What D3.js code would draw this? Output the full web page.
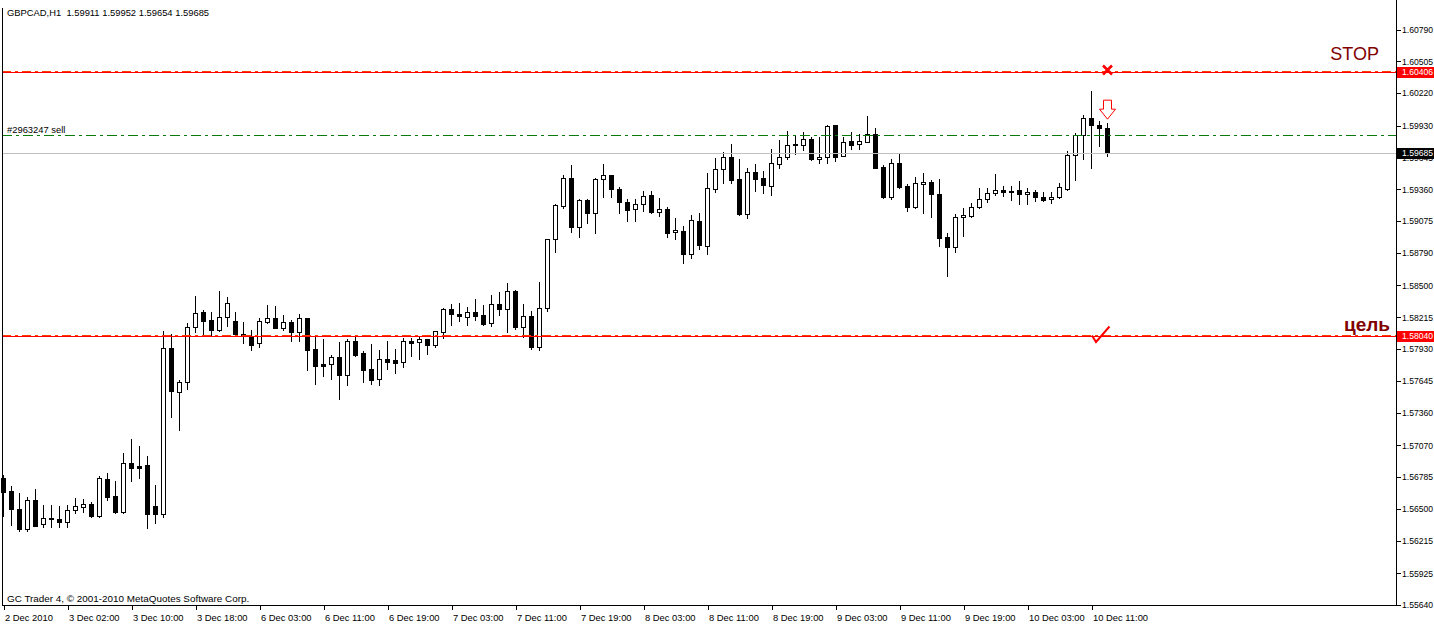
<!DOCTYPE html>
<html><head><meta charset="utf-8">
<script src="https://cdn.jsdelivr.net/npm/d3@7"></script>
<style>
body{margin:0;background:#fff;}
svg{display:block;}
text{font-family:"Liberation Sans",Arial,sans-serif;white-space:pre;}
</style>
</head><body>
<svg id="c" width="1434" height="624"></svg>
<script>
// ---- data (GBPCAD H1, hourly bars) ----
const openP=[1.56777,1.56661,1.56500,1.56318,1.56580,1.56363,1.56419,1.56410,1.56386,1.56488,
1.56520,1.56542,1.56440,1.56766,1.56616,1.56476,1.56909,1.56885,1.56891,1.56524,
1.56452,1.57938,1.57549,1.57633,1.58126,1.58260,1.58188,1.58104,1.58218,1.58179,
1.58063,1.58045,1.57982,1.58170,1.58206,1.58122,1.58170,1.58086,1.58206,1.57931,
1.57795,1.57795,1.57857,1.57701,1.58003,1.57893,1.57750,1.57660,1.57839,1.57833,
1.57812,1.58003,1.57997,1.58018,1.57970,1.58086,1.58287,1.58245,1.58220,1.58262,
1.58233,1.58161,1.58334,1.58292,1.58450,1.58131,1.58224,1.57952,1.58296,1.58913,
1.59214,1.59459,1.59026,1.59265,1.59146,1.59450,1.59488,1.59363,1.59247,1.59181,
1.59226,1.59309,1.59154,1.59184,1.58976,1.58987,1.58784,1.59077,1.58856,1.59360,
1.59539,1.59647,1.59450,1.59142,1.59512,1.59459,1.59390,1.59584,1.59652,1.59766,
1.59754,1.59808,1.59629,1.59647,1.59936,1.59661,1.59790,1.59768,1.59786,1.59852,
1.59557,1.59291,1.59593,1.59390,1.59205,1.59405,1.59423,1.59318,1.58931,1.58847,
1.59110,1.59124,1.59199,1.59271,1.59324,1.59354,1.59346,1.59354,1.59316,1.59333,
1.59289,1.59271,1.59289,1.59363,1.59670,1.59843,1.59996,1.59936,1.59911];
const highP=[1.56804,1.56706,1.56640,1.56605,1.56679,1.56536,1.56536,1.56527,1.56536,1.56596,
1.56589,1.56560,1.56795,1.56822,1.56750,1.57001,1.57126,1.57064,1.56974,1.56715,
1.58092,1.58066,1.57654,1.58161,1.58406,1.58280,1.58262,1.58450,1.58397,1.58262,
1.58173,1.58101,1.58211,1.58325,1.58316,1.58233,1.58191,1.58245,1.58208,1.58041,
1.58021,1.57878,1.57997,1.58021,1.58041,1.57914,1.57976,1.57922,1.58003,1.57931,
1.58027,1.58027,1.58048,1.58020,1.58092,1.58296,1.58337,1.58343,1.58307,1.58379,
1.58325,1.58415,1.58441,1.58522,1.58459,1.58334,1.58271,1.58531,1.58915,1.59229,
1.59488,1.59578,1.59271,1.59271,1.59459,1.59587,1.59490,1.59384,1.59271,1.59271,
1.59345,1.59348,1.59280,1.59199,1.59101,1.59032,1.59130,1.59151,1.59509,1.59638,
1.59694,1.59766,1.59629,1.59548,1.59584,1.59524,1.59721,1.59801,1.59882,1.59837,
1.59870,1.59831,1.59831,1.59936,1.59938,1.59826,1.59870,1.59852,1.60016,1.59906,
1.59580,1.59629,1.59676,1.59405,1.59468,1.59503,1.59443,1.59452,1.58967,1.59139,
1.59190,1.59240,1.59375,1.59375,1.59497,1.59390,1.59390,1.59435,1.59369,1.59354,
1.59339,1.59339,1.59419,1.59703,1.59867,1.60025,1.60240,1.59971,1.59952];
const lowP=[1.56437,1.56357,1.56306,1.56306,1.56348,1.56342,1.56342,1.56342,1.56342,1.56467,
1.56476,1.56431,1.56431,1.56580,1.56467,1.56467,1.56753,1.56775,1.56333,1.56372,
1.56431,1.57326,1.57207,1.57571,1.58086,1.58057,1.58057,1.58092,1.58137,1.58057,
1.57988,1.57922,1.57952,1.58168,1.58120,1.58101,1.58003,1.58003,1.57744,1.57618,
1.57690,1.57663,1.57487,1.57609,1.57869,1.57639,1.57621,1.57609,1.57755,1.57719,
1.57773,1.57871,1.57842,1.57889,1.57952,1.58027,1.58146,1.58185,1.58146,1.58191,
1.58149,1.58140,1.58236,1.58086,1.58110,1.58041,1.57931,1.57922,1.58274,1.58802,
1.59190,1.58981,1.58936,1.59061,1.58972,1.59294,1.59294,1.59151,1.59079,1.59079,
1.59166,1.59151,1.59124,1.58936,1.58913,1.58698,1.58748,1.58826,1.58779,1.59339,
1.59414,1.59414,1.59130,1.59101,1.59348,1.59330,1.59312,1.59554,1.59629,1.59673,
1.59712,1.59622,1.59598,1.59593,1.59616,1.59659,1.59724,1.59724,1.59784,1.59552,
1.59278,1.59276,1.59369,1.59169,1.59196,1.59151,1.59115,1.58856,1.58587,1.58797,
1.58945,1.59115,1.59190,1.59249,1.59307,1.59300,1.59265,1.59229,1.59229,1.59258,
1.59258,1.59240,1.59280,1.59354,1.59443,1.59631,1.59554,1.59750,1.59654];
const closeP=[1.56652,1.56497,1.56318,1.56580,1.56350,1.56417,1.56413,1.56386,1.56491,1.56524,
1.56542,1.56440,1.56775,1.56610,1.56476,1.56909,1.56869,1.56869,1.56452,1.56452,
1.57938,1.57558,1.57633,1.58126,1.58251,1.58185,1.58104,1.58215,1.58340,1.58068,
1.58048,1.57970,1.58179,1.58206,1.58122,1.58170,1.58086,1.58206,1.57922,1.57782,
1.57782,1.57857,1.57701,1.58000,1.57878,1.57746,1.57657,1.57839,1.57818,1.57809,
1.58003,1.57988,1.58018,1.57970,1.58090,1.58287,1.58247,1.58229,1.58260,1.58229,
1.58158,1.58331,1.58292,1.58448,1.58131,1.58224,1.57952,1.58296,1.58913,1.59220,
1.59459,1.59026,1.59265,1.59151,1.59450,1.59488,1.59366,1.59249,1.59175,1.59226,
1.59300,1.59160,1.59181,1.58972,1.58993,1.58784,1.59083,1.58865,1.59369,1.59539,
1.59647,1.59443,1.59139,1.59512,1.59455,1.59396,1.59593,1.59652,1.59754,1.59754,
1.59808,1.59631,1.59647,1.59927,1.59652,1.59781,1.59759,1.59790,1.59852,1.59554,
1.59290,1.59593,1.59384,1.59205,1.59414,1.59423,1.59316,1.58922,1.58847,1.59110,
1.59130,1.59199,1.59271,1.59324,1.59354,1.59339,1.59344,1.59316,1.59333,1.59289,
1.59267,1.59289,1.59378,1.59664,1.59843,1.59996,1.59938,1.59911,1.59685];

const yTicks=[1.60790,1.60505,1.60220,1.59930,1.59645,1.59360,1.59075,1.58790,1.58500,1.58215,
1.57930,1.57645,1.57360,1.57070,1.56785,1.56500,1.56215,1.55925,1.55640];
const xTickIdx=[0,8,16,24,32,40,48,56,64,72,80,88,96,104,112,120,128,136];
const xTickLabels=["2 Dec 2010","3 Dec 02:00","3 Dec 10:00","3 Dec 18:00","6 Dec 03:00","6 Dec 11:00",
"6 Dec 19:00","7 Dec 03:00","7 Dec 11:00","7 Dec 19:00","8 Dec 03:00","8 Dec 11:00","8 Dec 19:00",
"9 Dec 03:00","9 Dec 11:00","9 Dec 19:00","10 Dec 03:00","10 Dec 11:00"];

const titleText="GBPCAD,H1";
const orderLabel="#2963247 sell";
const copyrightText="GC Trader 4, © 2001-2010 MetaQuotes Software Corp.";
const stopLoss=1.60406, takeProfit=1.58040, orderPrice=1.59846, bidPrice=1.59685;
const stopText="STOP", targetText="цель";

// ---- layout ----
const W=1434,H=624, left=2, right=1396, bottom=605;
const svg=d3.select("#c");
const fs=9.4, afs=8.6;
const y=d3.scaleLinear().domain([1.55640,1.60790]).range([605.1,29.5]);
const x=d3.scaleLinear().domain([0,174]).range([3.5,1395.5]);
const fmt=d3.format(".5f");
const py=p=>Math.floor(y(p))+0.5;
const snap=v=>Math.round(v)+0.5;

const bars=openP.map((o,i)=>({i,o,h:highP[i],l:lowP[i],c:closeP[i]}));

// candles
const gC=svg.append("g").attr("shape-rendering","crispEdges");
gC.selectAll("line.w").data(bars).join("line")
  .attr("x1",d=>x(d.i)).attr("x2",d=>x(d.i))
  .attr("y1",d=>Math.round(y(d.h))).attr("y2",d=>Math.round(y(d.l))+1)
  .attr("stroke","#000").attr("stroke-width",1);
gC.selectAll("rect.b").data(bars).join("rect")
  .attr("x",d=>x(d.i)-2).attr("width",4)
  .attr("y",d=>snap(y(Math.max(d.o,d.c))))
  .attr("height",d=>Math.max(1,snap(y(Math.min(d.o,d.c)))-snap(y(Math.max(d.o,d.c)))))
  .attr("fill",d=>d.c>=d.o?"#fff":"#000").attr("stroke","#000").attr("stroke-width",1);

// horizontal lines
const gL=svg.append("g").attr("shape-rendering","crispEdges");
gL.append("line").attr("x1",left).attr("x2",right).attr("y1",py(bidPrice)).attr("y2",py(bidPrice))
  .attr("stroke","#c0c0c0");
gL.append("line").attr("x1",left).attr("x2",right).attr("y1",py(orderPrice)).attr("y2",py(orderPrice))
  .attr("stroke","#0a7a0a").attr("stroke-dasharray","10,4,3,4");
[stopLoss,takeProfit].forEach(p=>{
  gL.append("line").attr("x1",left).attr("x2",right).attr("y1",py(p)-0.5).attr("y2",py(p)-0.5)
    .attr("stroke","#ff3c00").attr("stroke-width",2).attr("stroke-dasharray","9,4,3,4");
  gL.append("line").attr("x1",left).attr("x2",right).attr("y1",py(p)).attr("y2",py(p))
    .attr("stroke","#ff0000").attr("stroke-width",1);
});

// frame
const gF=svg.append("g").attr("shape-rendering","crispEdges");
gF.append("line").attr("x1",left+0.5).attr("x2",left+0.5).attr("y1",8).attr("y2",bottom+0.5).attr("stroke","#000");
gF.append("line").attr("x1",right+0.5).attr("x2",right+0.5).attr("y1",0).attr("y2",bottom+1).attr("stroke","#000");
gF.append("line").attr("x1",left).attr("x2",right+1).attr("y1",bottom+0.5).attr("y2",bottom+0.5).attr("stroke","#000");

// y axis
const ya=svg.append("g").attr("transform",`translate(${right+1},0)`)
  .call(d3.axisRight(y).tickValues(yTicks).tickSize(4).tickSizeOuter(0).tickPadding(1).tickFormat(fmt));
ya.select(".domain").remove();
ya.selectAll("line").attr("shape-rendering","crispEdges");
ya.selectAll("text").attr("font-size",afs).attr("font-family","Liberation Sans, Arial, sans-serif").attr("fill","#000");

// x axis
const xa=svg.append("g").attr("transform",`translate(0,${bottom})`)
  .call(d3.axisBottom(x).tickValues(xTickIdx).tickSize(5).tickSizeOuter(0).tickPadding(3)
    .tickFormat((d,i)=>xTickLabels[i]));
xa.select(".domain").remove();
xa.selectAll("line").attr("shape-rendering","crispEdges");
xa.selectAll("text").attr("text-anchor","start").attr("x",1).attr("y",9).attr("dy","0.71em")
  .attr("font-size",fs).attr("font-family","Liberation Sans, Arial, sans-serif").attr("fill","#000");

// price tags on axis
function tag(p,bg){
  const cy=py(p);
  svg.append("rect").attr("x",right+1).attr("y",cy-5.5).attr("width",W-right-1).attr("height",11)
    .attr("fill",bg).attr("shape-rendering","crispEdges");
  svg.append("text").attr("x",right+6).attr("y",cy).attr("dy","0.34em").attr("font-size",afs)
    .attr("fill","#fff").text(fmt(p));
}
tag(stopLoss,"#ff0000"); tag(takeProfit,"#ff0000"); tag(bidPrice,"#000");

// texts
const last=bars[bars.length-1];
svg.append("text").attr("x",7).attr("y",16).attr("font-size",fs)
  .text(`${titleText}  ${fmt(last.o)} ${fmt(last.h)} ${fmt(last.l)} ${fmt(last.c)}`);
svg.append("text").attr("x",7).attr("y",py(orderPrice)-3).attr("font-size",fs).text(orderLabel);
svg.append("text").attr("x",7).attr("y",602).attr("font-size",9.9).text(copyrightText);
svg.append("text").attr("x",1379).attr("y",py(stopLoss)-13).attr("text-anchor","end")
  .attr("font-size",18).attr("fill","#800000").text(stopText);
svg.append("text").attr("x",1390).attr("y",py(takeProfit)-6).attr("text-anchor","end")
  .attr("font-size",19).attr("font-weight","bold").attr("fill","#800000").text(targetText);

// markers
const cx=x(last.i);
const sy=py(stopLoss)-2.5;
svg.append("path").attr("d",`M${cx-4.5},${sy-4.5}L${cx+4.5},${sy+4.5}M${cx+4.5},${sy-4.5}L${cx-4.5},${sy+4.5}`)
  .attr("stroke","#ff0000").attr("stroke-width",2.6).attr("fill","none");
const ty=y(last.h)-4;
svg.append("path").attr("d",`M${cx-4},${ty-19}L${cx+4},${ty-19}L${cx+4},${ty-10}L${cx+8},${ty-10}L${cx},${ty}L${cx-8},${ty-10}L${cx-4},${ty-10}Z`)
  .attr("fill","#fff").attr("stroke","#ff0000").attr("stroke-width",1);
const tpY=py(takeProfit);
svg.append("path").attr("d",`M${cx-15.5},${tpY-1}L${cx-11.5},${tpY+5.5}L${cx+2},${tpY-10}`)
  .attr("stroke","#ff0000").attr("stroke-width",2).attr("fill","none");
</script>
</body></html>
